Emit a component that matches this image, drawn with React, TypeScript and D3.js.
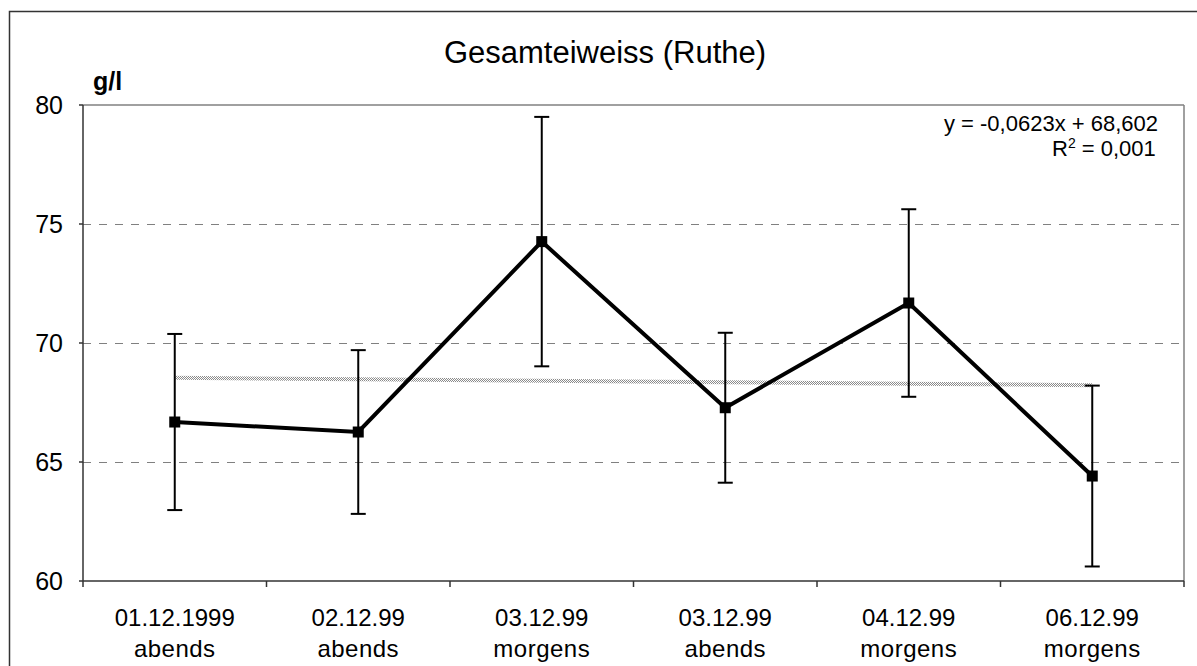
import React from "react";
import * as d3 from "d3";

const categoriesDate = ["01.12.1999", "02.12.99", "03.12.99", "03.12.99", "04.12.99", "06.12.99"];
const categoriesTime = ["abends", "abends", "morgens", "abends", "morgens", "morgens"];
const means = [66.68, 66.26, 74.26, 67.28, 71.68, 64.41];
const errors = [3.7, 3.44, 5.24, 3.15, 3.94, 3.8];
const yTicks = [60, 65, 70, 75, 80];
const trendSlope = -0.0623;
const trendIntercept = 68.602;
const titleText = "Gesamteiweiss (Ruthe)";
const unitText = "g/l";
const eqText = "y = -0,0623x + 68,602";
const r2Value = "= 0,001";

const W = 1197;
const H = 666;
const L = 83, R = 1184, T = 105, B = 581;
const FONT = "Liberation Sans, Arial, sans-serif";

export default function App() {
  const idx = d3.range(means.length);
  const x = d3.scaleBand<number>().domain(idx).range([L, R]).padding(0);
  const cx = (i: number) => (x(i) as number) + x.bandwidth() / 2;
  const y = d3.scaleLinear().domain([60, 80]).range([B, T]);
  const crisp = (v: number) => Math.round(v) + 0.5;

  const line = d3
    .line<number>()
    .x((_, i) => cx(i))
    .y((d) => y(d));

  const trendPts = idx.map((i) => trendIntercept + trendSlope * (i + 1));
  const boundaries = d3.range(means.length + 1).map((i) => L + i * x.bandwidth());

  return (
    <svg
      width={W}
      height={H}
      style={{ position: "absolute", left: 0, top: 0, background: "#fff" }}
      fontFamily={FONT}
    >
      <defs>
        <pattern id="checker" width="2" height="2" patternUnits="userSpaceOnUse">
          <rect width="2" height="2" fill="#fff" />
          <rect width="1" height="1" fill="#8a8a8a" />
          <rect x="1" y="1" width="1" height="1" fill="#8a8a8a" />
        </pattern>
      </defs>
      <rect x={0} y={0} width={W} height={H} fill="#fff" />
      {/* outer chart border */}
      <rect x={9.5} y={11.5} width={1200} height={700} fill="none" stroke="#333" strokeWidth={1.5} />

      {/* title */}
      <text x={605} y={63} textAnchor="middle" fontSize={31} fill="#000">
        {titleText}
      </text>
      <text x={93} y={90} fontSize={25} fontWeight="bold" fill="#000">
        {unitText}
      </text>

      {/* gridlines */}
      {yTicks
        .filter((t) => t !== 60 && t !== 80)
        .map((t) => (
          <line
            key={t}
            x1={L}
            x2={R}
            y1={crisp(y(t))}
            y2={crisp(y(t))}
            stroke="#808080"
            strokeWidth={1}
            strokeDasharray="8,8"
          />
        ))}

      {/* plot area border top/right */}
      <line x1={L} x2={R} y1={T} y2={T} stroke="#808080" strokeWidth={1.5} />
      <line x1={R} x2={R} y1={T} y2={B} stroke="#808080" strokeWidth={1.5} />

      {/* axes */}
      <line x1={L} x2={L} y1={T} y2={B} stroke="#333" strokeWidth={1.5} />
      <line x1={L} x2={R} y1={B} y2={B} stroke="#333" strokeWidth={1.5} />
      {yTicks.map((t) => (
        <g key={t}>
          <line x1={L - 4} x2={L} y1={y(t)} y2={y(t)} stroke="#333" strokeWidth={1.5} />
          <text x={63} y={y(t) + 9} textAnchor="end" fontSize={25} fill="#000">
            {t}
          </text>
        </g>
      ))}
      {boundaries.map((bx, i) => (
        <line key={i} x1={bx} x2={bx} y1={B} y2={B + 6} stroke="#333" strokeWidth={1.5} />
      ))}
      {idx.map((i) => (
        <g key={i}>
          <text x={cx(i)} y={626} textAnchor="middle" fontSize={24} fill="#000">
            {categoriesDate[i]}
          </text>
          <text x={cx(i)} y={657} textAnchor="middle" fontSize={24} fill="#000" letterSpacing={0.5}>
            {categoriesTime[i]}
          </text>
        </g>
      ))}

      {/* trend line */}
      <path d={line(trendPts) || ""} fill="none" stroke="url(#checker)" strokeWidth={4} />

      {/* error bars */}
      {idx.map((i) => (
        <g key={i} stroke="#000" strokeWidth={2}>
          <line x1={cx(i)} x2={cx(i)} y1={y(means[i] + errors[i])} y2={y(means[i] - errors[i])} />
          <line x1={cx(i) - 7.5} x2={cx(i) + 7.5} y1={y(means[i] + errors[i])} y2={y(means[i] + errors[i])} />
          <line x1={cx(i) - 7.5} x2={cx(i) + 7.5} y1={y(means[i] - errors[i])} y2={y(means[i] - errors[i])} />
        </g>
      ))}

      {/* series line */}
      <path d={line(means) || ""} fill="none" stroke="#000" strokeWidth={4} strokeLinejoin="miter" />
      {idx.map((i) => (
        <rect key={i} x={cx(i) - 5.5} y={y(means[i]) - 5.5} width={11} height={11} fill="#000" />
      ))}

      {/* regression label */}
      <text x={1051} y={131} textAnchor="middle" fontSize={22} fill="#000">
        {eqText}
      </text>
      <text x={1052} y={156} fontSize={22} fill="#000">
        R<tspan dy={-8} fontSize={14}>2</tspan>
        <tspan dy={8}> {r2Value}</tspan>
      </text>
    </svg>
  );
}
